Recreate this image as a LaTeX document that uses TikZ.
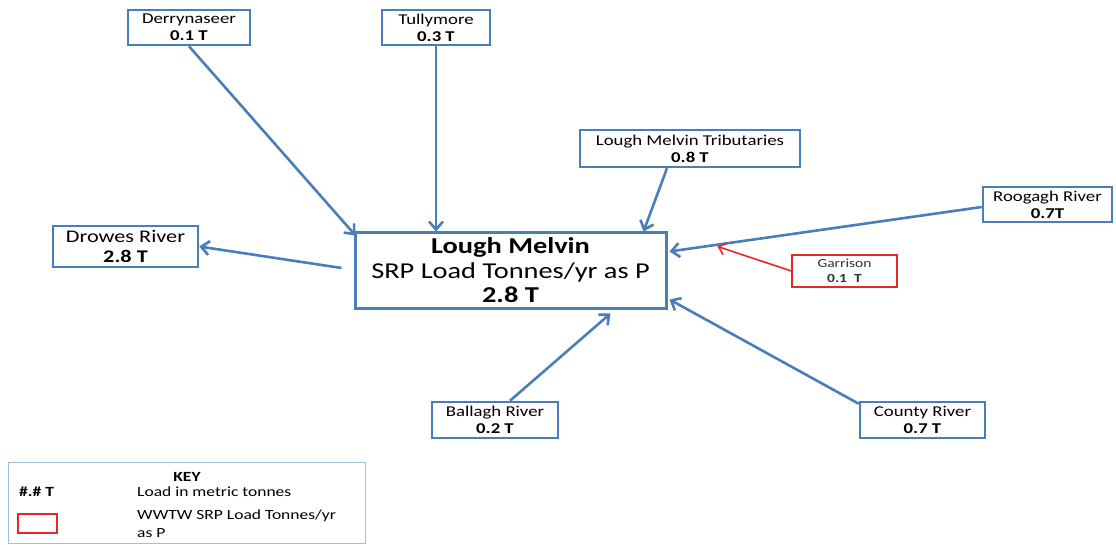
\documentclass[tikz,border=0pt]{standalone}
\usepackage{fontspec}
\setmainfont{Carlito}[FakeStretch=1.25]
\usetikzlibrary{arrows.meta,calc}
\definecolor{lineblue}{HTML}{4A7EBB}
\definecolor{wwtwred}{HTML}{E8262B}
\definecolor{keyedge}{HTML}{9CC3CF}
\begin{document}
\begin{tikzpicture}[x=1pt,y=-1pt,
  srcbox/.style={draw=lineblue,line width=2.5pt,fill=white,inner sep=0pt,align=center,
    font=\fontsize{15}{17}\selectfont},
  wwtwbox/.style={draw=wwtwred,line width=1.3pt,fill=white,inner sep=0pt,align=center,
    text=black!80,font=\fontsize{12.4}{15}\selectfont},
  flow/.style={draw=lineblue,line width=2.6pt,-{Straight Barb[length=8pt,width=14pt,line width=2.6pt]}},
  wwtwflow/.style={draw=wwtwred,line width=1.6pt,-{Straight Barb[length=6.5pt,width=12pt,line width=1.6pt]}},
  keytext/.style={inner sep=0pt,anchor=west,font=\fontsize{14}{16}\selectfont}]
\useasboundingbox (0,0) rectangle (1116,545);

% central lake
\node[srcbox,line width=3pt,minimum width=311pt,minimum height=75pt,
  font=\fontsize{22.7}{24.5}\selectfont] (main) at (510.5,270.5)
  {\textbf{Lough Melvin}\\SRP Load Tonnes/yr as P\\\textbf{2.8 T}};

% catchment sources
\node[srcbox,minimum width=122pt,minimum height=35pt] (der) at (189,27.5) {Derrynaseer\\\textbf{0.1 T}};
\node[srcbox,minimum width=108pt,minimum height=35pt] (tul) at (436,27.5) {Tullymore\\\textbf{0.3 T}};
\node[srcbox,minimum width=220pt,minimum height=37pt] (trib) at (690,148.5) {Lough Melvin Tributaries\\\textbf{0.8 T}};
\node[srcbox,minimum width=129pt,minimum height=35pt] (roo) at (1047.5,204.5) {Roogagh River\\\textbf{0.7T}};
\node[srcbox,minimum width=145pt,minimum height=41pt,
  font=\fontsize{17.8}{20}\selectfont] (dro) at (125.5,246.5) {Drowes River\\\textbf{2.8 T}};
\node[srcbox,minimum width=126pt,minimum height=36pt] (bal) at (495,420) {Ballagh River\\\textbf{0.2 T}};
\node[srcbox,minimum width=125pt,minimum height=36pt] (cty) at (922.5,420) {County River\\\textbf{0.7 T}};
\node[wwtwbox,minimum width=105pt,minimum height=32pt] (gar) at (844.5,271) {Garrison\\\textbf{0.1\ \ T}};

% loads into and out of the lake
\draw[flow] (der.south) -- ($(main.north west)+(2,4)$);
\draw[flow] (tul.south) -- (tul.south |- main.north);
\draw[flow] ($(trib.south)+(-23,0)$) -- ($(main.north east)+(-24,0)$);
\draw[flow] ($(roo.west)+(0,2.5)$) -- ($(main.north east)+(2,20)$);
\draw[wwtwflow] (gar.west) -- ($(main.north east)+(50,15)$);
\draw[flow] ($(main.west)+(-12,-2.5)$) -- (dro.east);
\draw[flow] ($(bal.north)+(15,0)$) -- ($(main.south)+(100,4)$);
\draw[flow] ($(cty.north west)+(0,3)$) -- ($(main.south east)+(2,-10)$);

% key
\node[draw=keyedge,line width=1pt,minimum width=357pt,minimum height=81pt,inner sep=0pt] (key) at (186.5,502.5) {};
\node[keytext,anchor=center,font=\fontsize{14}{16}\selectfont\bfseries] (keyt) at (187,477) {KEY};
\node[keytext,font=\fontsize{14}{16}\selectfont\bfseries] (k1) at (19,492) {\#.\# T};
\node[keytext] (k1t) at (137,492) {Load in metric tonnes};
\node[draw=wwtwred,line width=1.2pt,minimum width=39pt,minimum height=19pt,inner sep=0pt] (k2) at (37.5,523.5) {};
\node[keytext,align=left,anchor=north west,font=\fontsize{14}{18}\selectfont] (k2t) at (137,510) {WWTW SRP Load Tonnes/yr\\as P};
\end{tikzpicture}
\end{document}
